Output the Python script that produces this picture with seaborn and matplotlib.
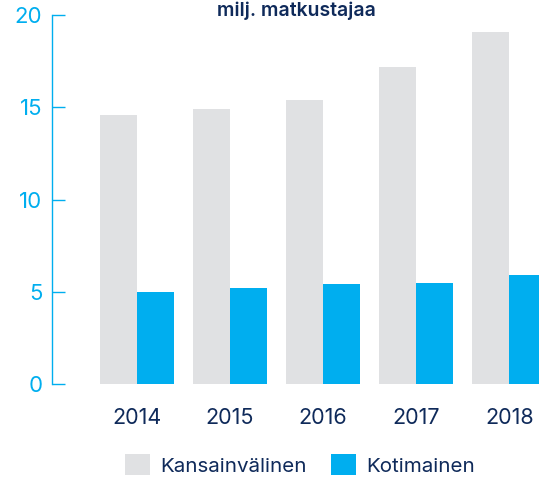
import matplotlib
matplotlib.use("Agg")
import matplotlib.pyplot as plt
import pandas as pd
import seaborn as sns

years = ["2014", "2015", "2016", "2017", "2018"]
kansainvalinen = [14.6, 14.9, 15.4, 17.2, 19.1]
kotimainen = [5.0, 5.2, 5.4, 5.5, 5.9]
series_names = ["Kansainvälinen", "Kotimainen"]
y_ticks = [0, 5, 10, 15, 20]

navy = "#0f2a5a"
cyan = "#00aeef"
grey = "#e0e1e3"


def main():
    df = pd.DataFrame({
        "year": years * 2,
        "value": kansainvalinen + kotimainen,
        "series": [series_names[0]] * len(years) + [series_names[1]] * len(years),
    })

    sns.set_style("white")
    plt.rcParams["font.family"] = ["Inter", "DejaVu Sans"]

    fig = plt.figure(figsize=(5.39, 4.78), dpi=100)
    ax = fig.add_axes([52 / 539, 94 / 478, 1 - 52 / 539, (384 - 15) / 478])

    sns.barplot(data=df, x="year", y="value", hue="series",
                palette=[grey, cyan], width=0.8, saturation=1,
                linewidth=0, ax=ax)

    handles, labels = ax.get_legend_handles_labels()
    ax.get_legend().remove()

    ax.set_xlim(-0.914, 4.32)
    ax.set_ylim(0, 20)
    ax.set_yticks(y_ticks)
    ax.set_xlabel("")
    ax.set_ylabel("")

    for side in ["top", "right", "bottom"]:
        ax.spines[side].set_visible(False)
    ax.spines["left"].set_color(cyan)
    ax.spines["left"].set_linewidth(1.0)

    ax.tick_params(axis="y", direction="in", length=9, width=1.0,
                   color=cyan, labelcolor=cyan, labelsize=16, pad=7, left=True)
    ax.tick_params(axis="x", length=0, labelcolor=navy, labelsize=15.5, pad=17)

    fig.text(296 / 539, 1 - 2 / 478, "milj. matkustajaa", ha="center", va="top",
             color=navy, fontsize=14, fontweight="semibold")

    fig.legend(handles, labels, loc="center", bbox_to_anchor=(300 / 539, 13 / 478),
               ncol=2, frameon=False, fontsize=14.8, labelcolor=navy,
               handlelength=1.2, handleheight=1.2, handletextpad=0.5,
               columnspacing=1.2)

    fig.savefig("out.png", dpi=100)
    plt.close(fig)


if __name__ == "__main__":
    main()
